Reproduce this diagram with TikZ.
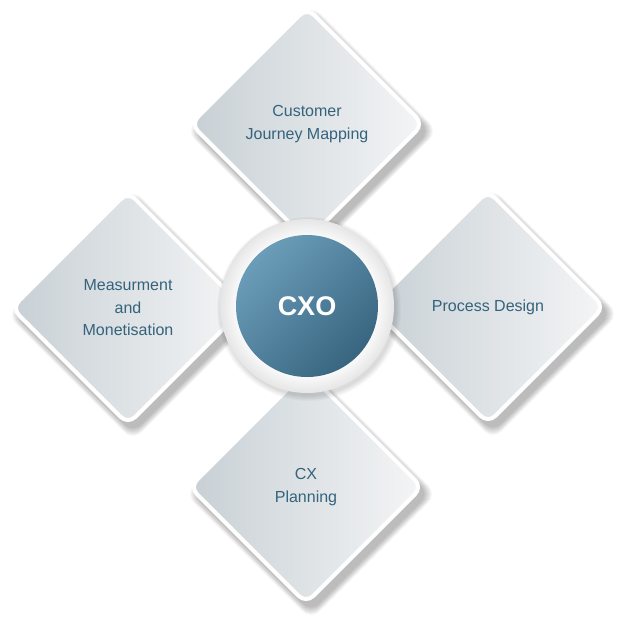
\documentclass[tikz,border=0pt]{standalone}
\usepackage{fontspec}
\setmainfont{Liberation Sans}
\usetikzlibrary{shapes.geometric}
\definecolor{txtc}{HTML}{34637D}
\definecolor{dmdark}{HTML}{C8D0D5}
\definecolor{dmlight}{HTML}{F4F5F6}
\definecolor{cxlight}{HTML}{6B9DB9}
\definecolor{cxdark}{HTML}{386580}
\pgfdeclareradialshading{ringshade}{\pgfpoint{0bp}{0bp}}{color(0bp)=(white); color(19bp)=(white); color(25bp)=(black!10); color(50bp)=(black!10)}
\begin{document}
\begin{tikzpicture}[x=1pt,y=-1pt,
  petal/.style={diamond, aspect=1, minimum width=234pt, minimum height=234pt,
    inner sep=0pt, rounded corners=10pt, draw=white, line width=4pt,
    top color=dmdark, bottom color=dmlight, shading angle=90,
    text=txtc, align=center, font=\fontsize{16}{22.5}\selectfont},
  shadowlayer/.style={diamond, aspect=1, inner sep=0pt, rounded corners=12pt,
    fill=black, fill opacity=0.03, draw=none},
  ringstyle/.style={circle, minimum size=174pt, inner sep=0pt, shade, shading=ringshade},
  ringshadow/.style={circle, inner sep=0pt, fill=black, fill opacity=0.025, draw=none},
  corestyle/.style={circle, minimum size=142pt, inner sep=0pt,
    top color=cxlight, bottom color=cxdark, shading angle=45,
    text=white, font=\fontsize{27}{30}\selectfont\bfseries}
]
\fill[white] (0,0) rectangle (634,632);
\useasboundingbox (0,0) rectangle (634,632);
% soft drop shadows of the four diamonds
\foreach \cx/\cy in {307/124, 488/307, 306/487, 128/308} {
  \foreach \g in {0,2,...,16} {
    \node[shadowlayer, minimum width={(236+\g)*1pt}, minimum height={(236+\g)*1pt}] at (\cx+5,\cy+7) {};
  }
}
\node[petal] (top) at (307,124) {Customer\\Journey Mapping};
\node[petal] (right) at (488,307) {Process Design};
\node[petal] (bottom) at (306,487) {CX\\Planning};
\node[petal] (left) at (128,308) {Measurment\\and\\Monetisation};
% soft shadow of the ring
\foreach \g in {0,2,...,10} {
  \node[ringshadow, minimum size={(174+\g)*1pt}] at (309,309) {};
}
\node[ringstyle] (ring) at (307,306) {};
\node[corestyle] (cxo) at (307,306) {CXO};
\end{tikzpicture}
\end{document}
